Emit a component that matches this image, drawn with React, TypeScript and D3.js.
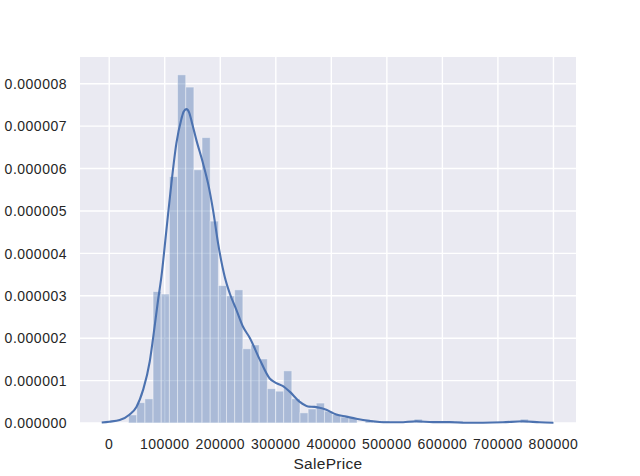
import React from "react";
import * as d3 from "d3";

// Histogram of SalePrice (density, in units of 1e-6)
const binLow = 34900;
const binWidth = 14696;
const binDensity = [
  0.19, 0.48, 0.57, 3.10, 3.04, 5.81, 8.21, 7.92, 5.97, 6.73,
  4.76, 3.24, 3.00, 3.14, 1.75, 1.84, 1.51, 0.81, 0.75, 1.23,
  0.57, 0.24, 0.33, 0.47, 0.28, 0.20, 0.14, 0.12, 0.00, 0.07,
  0.05, 0.05, 0.00, 0.00, 0.05, 0.09, 0.00, 0.05, 0.00, 0.05,
  0.05, 0.00, 0.00, 0.00, 0.00, 0.00, 0.00, 0.00, 0.09,
];

// KDE curve points
const kdeX = [
  -13500, 0, 18900, 36900, 49000, 61000, 73000, 79000, 88000, 94000,
  103000, 112000, 121000, 130000, 134000, 139000, 144000, 149000, 157000, 169000,
  178000, 187000, 196000, 208000, 217000, 229000, 241000, 253500, 271000, 289000,
  301000, 313000, 325000, 343000, 358000, 370000, 379000, 391000, 409000, 427000,
  445000, 469000, 499000, 523000, 553000, 583000, 613000, 643000, 673000, 709000,
  745000, 775000, 800000,
];
const kdeY = [
  0.01, 0.03, 0.07, 0.2, 0.38, 0.78, 1.45, 2.0, 2.9, 3.45,
  4.55, 5.65, 6.6, 7.17, 7.34, 7.40, 7.32, 7.08, 6.67, 6.12,
  5.65, 5.02, 4.24, 3.45, 3.06, 2.67, 2.27, 2.0, 1.5, 1.05,
  0.94, 0.87, 0.74, 0.5, 0.39, 0.38, 0.36, 0.31, 0.2, 0.15,
  0.1, 0.05, 0.016, 0.016, 0.04, 0.02, 0.02, 0.007, 0.007, 0.016,
  0.04, 0.016, 0.005,
];

const xTicks = [0, 100000, 200000, 300000, 400000, 500000, 600000, 700000, 800000];
const yTicks = [0, 1, 2, 3, 4, 5, 6, 7, 8];
const yTickLabels = ["0.000000", "0.000001", "0.000002", "0.000003", "0.000004", "0.000005", "0.000006", "0.000007", "0.000008"];
const xLabel = "SalePrice";

const W = 640;
const H = 476;
const L = 80, R = 576, T = 57, B = 423;
const BLUE = "#4c72b0";
const FONT = "'Liberation Sans', Arial, sans-serif";

export default function App() {
  const x = d3.scaleLinear().domain([-52600, 840600]).range([L, R]);
  const y = d3.scaleLinear().domain([0, 8.63]).range([B, T]);
  const pts: [number, number][] = kdeX.map((v, i) => [v, kdeY[i]]);
  const line = d3
    .line<[number, number]>()
    .x((d) => x(d[0]))
    .y((d) => y(d[1]))
    .curve(d3.curveMonotoneX);

  return (
    <svg
      width={W}
      height={H}
      style={{ position: "absolute", left: 0, top: 0, background: "#fff" }}
    >
      <rect x={L} y={T} width={R - L} height={B - T} fill="#eaeaf2" />
      {xTicks.map((t) => (
        <line key={"gx" + t} x1={x(t)} x2={x(t)} y1={T} y2={B} stroke="#fff" strokeWidth={1.4} />
      ))}
      {yTicks.map((t) => (
        <line key={"gy" + t} x1={L} x2={R} y1={y(t)} y2={y(t)} stroke="#fff" strokeWidth={1.4} />
      ))}
      {binDensity.map((d, i) => {
        const x0 = x(binLow + i * binWidth);
        const x1 = x(binLow + (i + 1) * binWidth);
        return (
          <rect
            key={"b" + i}
            x={x0}
            y={y(d)}
            width={x1 - x0}
            height={y(0) - y(d)}
            fill={BLUE}
            fillOpacity={0.4}
            stroke="#fff"
            strokeOpacity={0.4}
            strokeWidth={1}
          />
        );
      })}
      <path d={line(pts) || ""} fill="none" stroke={BLUE} strokeWidth={2.1} strokeLinejoin="round" />
      {yTicks.map((t, i) => (
        <text
          key={"ly" + t}
          x={L - 13}
          y={y(t) + 5.2}
          textAnchor="end"
          fontFamily={FONT}
          fontSize={14}
          letterSpacing={0.5}
          fill="#262626"
        >
          {yTickLabels[i]}
        </text>
      ))}
      {xTicks.map((t) => (
        <text
          key={"lx" + t}
          x={x(t)}
          y={448.5}
          textAnchor="middle"
          fontFamily={FONT}
          fontSize={14}
          letterSpacing={0.5}
          fill="#262626"
        >
          {String(t)}
        </text>
      ))}
      <text
        x={(L + R) / 2}
        y={468.5}
        textAnchor="middle"
        fontFamily={FONT}
        fontSize={15.5}
        letterSpacing={0.3}
        fill="#262626"
      >
        {xLabel}
      </text>
    </svg>
  );
}
